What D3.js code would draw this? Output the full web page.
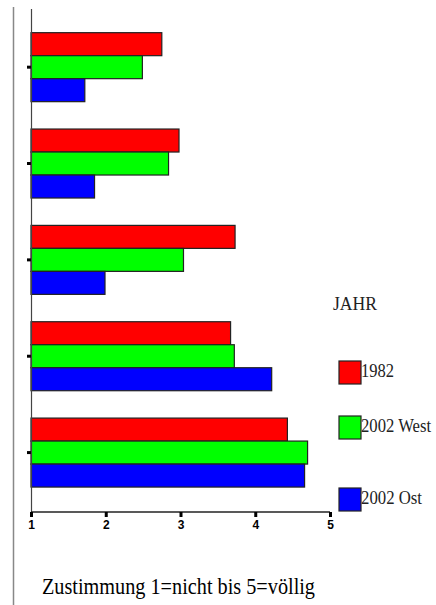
<!DOCTYPE html>
<html><head><meta charset="utf-8">
<script src="https://cdn.jsdelivr.net/npm/d3@7"></script>
<style>body{margin:0;background:#fff}svg{display:block}</style>
</head><body>
<script>
const categories = ["A","B","C","D","E"];
const seriesNames = ["1982","2002 West","2002 Ost"];
const seriesColors = ["#ff0000","#00ff00","#0000ff"];
const values1982 = [2.75, 2.98, 3.73, 3.67, 4.43];
const values2002West = [2.49, 2.84, 3.04, 3.72, 4.70];
const values2002Ost = [1.72, 1.85, 1.99, 4.22, 4.66];
const xTicks = [1,2,3,4,5];
const legendTitle = "JAHR";
const axisTitle = "Zustimmung 1=nicht bis 5=völlig";

const series = [values1982, values2002West, values2002Ost];
const W = 436, H = 605;
const serif = "Liberation Serif, Times New Roman, serif";
const svg = d3.select("body").append("svg").attr("width", W).attr("height", H);

const x = d3.scaleLinear().domain([1,5]).range([31,330]);
const y0 = d3.scaleBand().domain(categories).range([19, 500.75]).paddingInner(0.284).paddingOuter(0.142);
const y1 = d3.scaleBand().domain(seriesNames).range([0, y0.bandwidth()]);

// left gray frame line
svg.append("line").attr("x1",13.5).attr("x2",13.5).attr("y1",7).attr("y2",H).attr("stroke","#888").attr("stroke-width",1.5);

const g = svg.append("g");
categories.forEach((c,i)=>{
  const grp = g.append("g").attr("transform",`translate(0,${y0(c)})`);
  seriesNames.forEach((s,j)=>{
    grp.append("rect")
      .attr("x", x(1))
      .attr("y", y1(s))
      .attr("width", x(series[j][i]) - x(1))
      .attr("height", y1.bandwidth())
      .attr("fill", seriesColors[j])
      .attr("stroke","#222").attr("stroke-width",1.2);
  });
});

// y axis
const yAxis = d3.axisLeft(y0).tickSize(4).tickFormat("");
const ya = svg.append("g").attr("transform",`translate(${x(1)},0)`).call(yAxis);
ya.select(".domain").remove();
ya.selectAll(".tick line").attr("stroke","#000").attr("stroke-width",3);
svg.append("line").attr("x1",x(1)+0.5).attr("x2",x(1)+0.5).attr("y1",9).attr("y2",512).attr("stroke","#444").attr("stroke-width",1.2);

// x axis
const xAxis = d3.axisBottom(x).tickValues(xTicks).tickSize(5).tickPadding(3).tickFormat(d3.format("d"));
const xa = svg.append("g").attr("transform","translate(0,512)").call(xAxis);
xa.select(".domain").attr("d",`M${x(1)},0H${x(5)}`).attr("stroke","#222").attr("stroke-width",1.5);
xa.selectAll(".tick line").attr("stroke","#000").attr("stroke-width",3);
xa.selectAll(".tick text").attr("font-family","Liberation Sans, Arial, sans-serif").attr("font-weight","bold").attr("font-size",12).attr("fill","#000");

// legend
svg.append("text").attr("x",333).attr("y",310).attr("font-family",serif).attr("font-size",18)
  .attr("textLength",44).attr("lengthAdjust","spacingAndGlyphs").attr("fill","#222").text(legendTitle);
const legY = [361, 416, 488];
const legW = [33, 70, 61];
seriesNames.forEach((s,j)=>{
  svg.append("rect").attr("x",339).attr("y",legY[j]).attr("width",22).attr("height",23)
    .attr("fill",seriesColors[j]).attr("stroke","#222").attr("stroke-width",1.2);
  svg.append("text").attr("x",361).attr("y",legY[j]+16).attr("font-family",serif)
    .attr("font-size",18).attr("textLength",legW[j]).attr("lengthAdjust","spacingAndGlyphs").attr("fill","#222").text(s);
});

// axis title
svg.append("text").attr("x",42).attr("y",594).attr("font-family",serif)
  .attr("font-size",24).attr("fill","#000").attr("textLength",273).attr("lengthAdjust","spacingAndGlyphs").text(axisTitle);
</script>
</body></html>
